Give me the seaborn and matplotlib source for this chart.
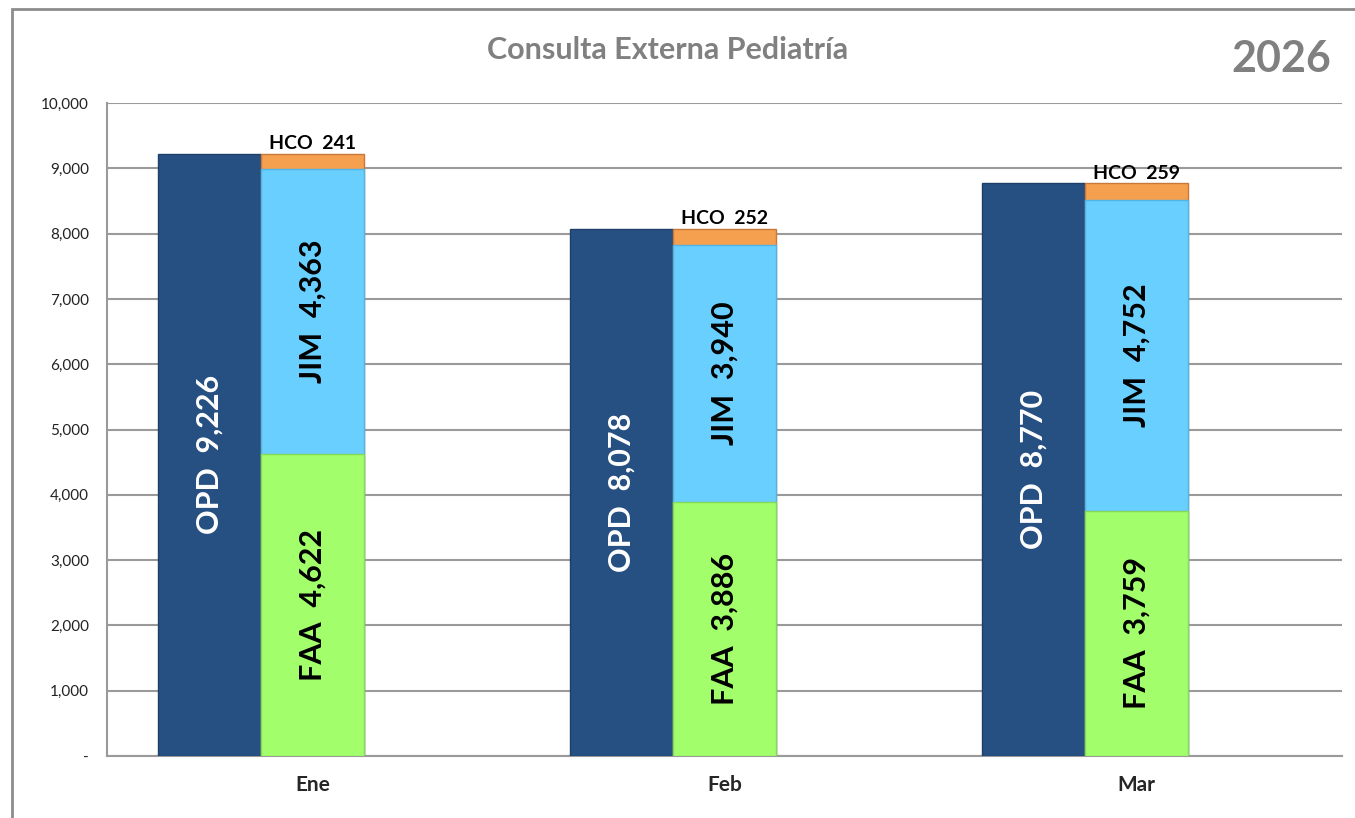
import numpy as np
import pandas as pd
import seaborn as sns
import matplotlib.pyplot as plt
from matplotlib.ticker import FuncFormatter, MultipleLocator
from matplotlib.patches import Rectangle

### datos
meses = ['Ene', 'Feb', 'Mar']
opd = [9226, 8078, 8770]
faa = [4622, 3886, 3759]
jim = [4363, 3940, 4752]
hco = [241, 252, 259]

grupos = ['OPD', 'Pac', 'Vacio']
c_opd = '#264F82'
c_faa = '#A2FF6B'
c_jim = '#69CFFF'
c_hco = '#F4A04E'

sns.set_style('white')
plt.rcParams['font.family'] = ['Lato', 'DejaVu Sans']

fig = plt.figure(figsize=(13.55, 8.18), dpi=100)
ax = fig.add_axes([107 / 1355, 1 - 756 / 818, (1342 - 107) / 1355, (756 - 103) / 818])

### capas apiladas (de mayor a menor)
tot = np.array(faa) + np.array(jim) + np.array(hco)
capas = [
    (pd.DataFrame({'mes': meses, 'valor': opd, 'grupo': 'OPD'}), c_opd, '#1E4068'),
    (pd.DataFrame({'mes': meses, 'valor': tot, 'grupo': 'Pac'}), c_hco, '#C8783A'),
    (pd.DataFrame({'mes': meses, 'valor': np.array(faa) + np.array(jim), 'grupo': 'Pac'}), c_jim, '#4FB4E6'),
    (pd.DataFrame({'mes': meses, 'valor': faa, 'grupo': 'Pac'}), c_faa, '#86D958'),
]
for df, col, borde in capas:
    sns.barplot(data=df, x='mes', y='valor', hue='grupo', order=meses,
                hue_order=grupos, palette={'OPD': col, 'Pac': col, 'Vacio': col},
                width=0.75, dodge=True, saturation=1, errorbar=None,
                legend=False, edgecolor=borde, linewidth=1, ax=ax, zorder=3)

### etiquetas
for i in range(len(meses)):
    ax.text(i - 0.25, opd[i] / 2, 'OPD  {:,}'.format(opd[i]), rotation=90,
            ha='center', va='center', color='white', fontsize=22, fontweight='bold', zorder=5)
    ax.text(i, faa[i] / 2, 'FAA  {:,}'.format(faa[i]), rotation=90,
            ha='center', va='center', color='black', fontsize=22, fontweight='bold', zorder=5)
    ax.text(i, faa[i] + jim[i] / 2, 'JIM  {:,}'.format(jim[i]), rotation=90,
            ha='center', va='center', color='black', fontsize=22, fontweight='bold', zorder=5)
    ax.text(i, tot[i] + 20, 'HCO  {:,}'.format(hco[i]),
            ha='center', va='bottom', color='black', fontsize=14, fontweight='bold', zorder=5)

### ejes
ax.set_xlim(-0.5, 2.5)
ax.set_ylim(0, 10000)
ax.yaxis.set_major_locator(MultipleLocator(1000))
ax.yaxis.set_major_formatter(FuncFormatter(lambda v, p: '-' if v == 0 else '{:,.0f}'.format(v)))
ax.grid(axis='y', color='#9A9A9A', linewidth=1.5, zorder=0)
ax.set_axisbelow(True)
ax.set_xlabel('')
ax.set_ylabel('')
for s in ['top', 'right']:
    ax.spines[s].set_visible(False)
for s in ['left', 'bottom']:
    ax.spines[s].set_color('#9A9A9A')
    ax.spines[s].set_linewidth(1.5)
ax.tick_params(axis='y', direction='inout', length=10, width=1.5, color='#9A9A9A',
               labelsize=11, labelcolor='#222222', pad=8)
ax.set_xticks(range(len(meses)))
ax.set_xticklabels(meses, fontsize=15, fontweight='bold')
ax.tick_params(axis='x', which='major', length=0, pad=14)
ax.set_xticks([-0.5, 0.5, 1.5, 2.5], minor=True)
ax.tick_params(axis='x', which='minor', direction='out', length=9, width=1.5, color='#9A9A9A')

### titulos
fig.text(668 / 1355, 1 - 50 / 818, 'Consulta Externa Pediatría', ha='center', va='center',
         fontsize=22, fontweight='bold', color='#808080')
fig.text(1331 / 1355, 1 - 59 / 818, '2026', ha='right', va='center',
         fontsize=31, fontweight='bold', color='#808080')

### marco
fig.add_artist(Rectangle((12 / 1355, -0.1), 1.2, 1.1 - 9 / 818, transform=fig.transFigure,
                         fill=False, edgecolor='#8C8C8C', linewidth=2))

fig.savefig('out.png', dpi=100)
